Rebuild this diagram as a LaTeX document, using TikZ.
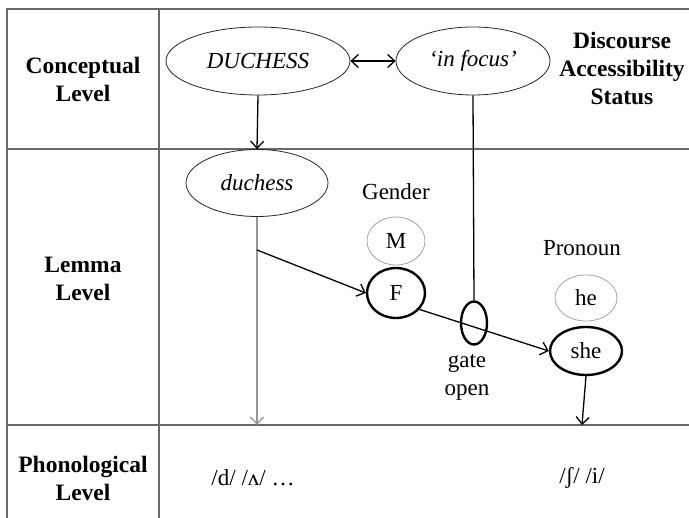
\documentclass[tikz,border=0pt]{standalone}
\usepackage{fontspec}
\setmainfont{Liberation Serif}
\usetikzlibrary{shapes.geometric,arrows.meta}

\definecolor{rulegray}{RGB}{105,105,105}
\definecolor{paleline}{RGB}{150,150,150}
\definecolor{faint}{RGB}{165,165,165}

\tikzset{
  txt/.style={font=\fontsize{23}{28}\selectfont, inner sep=0pt, align=center},
  head/.style={txt, font=\fontsize{23.5}{28}\selectfont\bfseries},
  oval/.style={ellipse, draw=black!85, line width=0.8pt, inner sep=0pt,
               font=\fontsize{23}{28}\selectfont\itshape},
  choice/.style={ellipse, draw=black, line width=2.4pt, inner sep=0pt,
                 font=\fontsize{23}{28}\selectfont},
  rival/.style={ellipse, draw=faint, line width=0.8pt, inner sep=0pt,
                font=\fontsize{23}{28}\selectfont},
  grid/.style={draw=rulegray, line width=1.2pt},
  tip/.style={-{Straight Barb[length=7pt,width=13pt,line width=1.3pt]}, line width=1.3pt},
}

\begin{document}
\begin{tikzpicture}[x=1pt,y=-1pt]
  \useasboundingbox (0,0) rectangle (689,518);

  % table frame
  \draw[grid] (7,518) -- (7,9) -- (689,9);
  \draw[grid] (159,9) -- (159,518);
  \draw[grid] (7,149) -- (689,149);
  \draw[grid] (7,425) -- (689,425);

  % row headings
  \node[head] (hconc)  at (83,79)  {Conceptual\\Level};
  \node[head] (hlemma) at (83,279) {Lemma\\Level};
  \node[head] (hphon)  at (83,478) {Phonological\\Level};
  \node[head] (hdisc)  at (622,68) {Discourse\\Accessibility\\Status};

  % conceptual level
  \node[oval, minimum width=184pt, minimum height=68pt] (DUCH) at (258,61) {DUCHESS};
  \node[oval, minimum width=154pt, minimum height=68pt] (focus) at (473,61) {‘in focus’};

  % lemma level
  \node[oval, minimum width=142pt, minimum height=67pt] (duch) at (257,183) {duchess};
  \node[txt] (gender) at (396,192) {Gender};
  \node[rival,  minimum width=58pt, minimum height=48pt] (M) at (396,241) {M};
  \node[choice, minimum width=58pt, minimum height=50pt] (F) at (396,293) {F};
  \node[draw=black, line width=2.4pt, ellipse, minimum width=26pt, minimum height=43pt,
        inner sep=0pt] (gate) at (474,323) {};
  \node[txt] (gatelbl) at (467,377) {gate\\open};
  \node[txt] (pron) at (582,248) {Pronoun};
  \node[rival,  minimum width=62pt, minimum height=46pt] (he)  at (586,298) {he};
  \node[choice, minimum width=72pt, minimum height=48pt] (she) at (586,351) {she};

  % phonological level
  \node[txt] (phd)  at (253,478) {/d/ /ʌ/ …};
  \node[txt] (phsh) at (582,478) {/ʃ/ /i/};

  \coordinate (fork)  at (257,250);
  \coordinate (dfoot) at (257,425);
  \coordinate (sfoot) at (582,425);

  % connectors
  \draw[tip, {Straight Barb[length=7pt,width=13pt,line width=1.3pt]}-{Straight Barb[length=7pt,width=13pt,line width=1.3pt]}]
        (DUCH) -- (focus);
  \draw[tip] (DUCH.south) -- (duch.north);
  \draw[tip, draw=paleline, line width=1.6pt,
        -{Straight Barb[length=7pt,width=13pt,line width=1.3pt,color=paleline]}]
        (duch.south) -- (dfoot);
  \draw[tip] (fork) -- (F.west);
  \draw[line width=1.3pt] (focus.south) -- (gate.north);
  \draw[tip] (F.-35) -- (she.west);
  \draw[tip] (she.south) -- (sfoot);
\end{tikzpicture}
\end{document}
